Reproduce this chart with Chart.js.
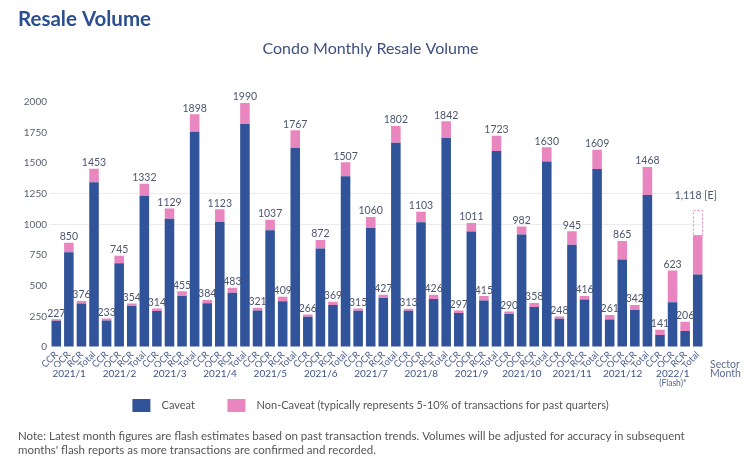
<!DOCTYPE html>
<html>
<head>
<meta charset="utf-8">
<script src="https://cdn.jsdelivr.net/npm/chart.js@4/dist/chart.umd.min.js"></script>
<style>
  html, body { margin: 0; padding: 0; background: #ffffff; }
  #wrap { position: relative; width: 750px; height: 464px; }
</style>
</head>
<body>
<div id="wrap"><canvas id="c" width="750" height="464"></canvas></div>
<script>
// ---- Data ----
const months = ['2021/1','2021/2','2021/3','2021/4','2021/5','2021/6','2021/7','2021/8','2021/9','2021/10','2021/11','2021/12','2022/1'];
const sectors = ['CCR','OCR','RCR','Total'];

// Caveat (blue) per bar: CCR, OCR, RCR, Total for each month
const caveat = [
  215, 773, 355, 1343,
  216, 684, 334, 1234,
  293, 1047, 415, 1755,
  357, 1020, 442, 1819,
  298, 953, 374, 1625,
  247, 803, 342, 1392,
  296, 971, 399, 1666,
  296, 1018, 391, 1705,
  277, 942, 380, 1599,
  270, 917, 326, 1513,
  231, 833, 388, 1452,
  225, 714, 301, 1240,
  98, 364, 130, 592
];
// Non-Caveat (pink)
const nonCaveat = [
  12, 77, 21, 110,
  17, 61, 20, 98,
  21, 82, 40, 143,
  27, 103, 41, 171,
  23, 84, 35, 142,
  19, 69, 27, 115,
  19, 89, 28, 136,
  17, 85, 35, 137,
  20, 69, 35, 124,
  20, 65, 32, 117,
  17, 112, 28, 157,
  36, 151, 41, 228,
  43, 259, 76, 320
];
// Printed value labels above the bars
const barLabels = [
  '227','850','376','1453',
  '233','745','354','1332',
  '314','1129','455','1898',
  '384','1123','483','1990',
  '321','1037','409','1767',
  '266','872','369','1507',
  '315','1060','427','1802',
  '313','1103','426','1842',
  '297','1011','415','1723',
  '290','982','358','1630',
  '248','945','416','1609',
  '261','865','342','1468',
  '141','623','206','1,118 [E]'
];
const flashEstimateTotal = 1118;   // estimated final total for 2022/1 (dotted box)
const yTicks = [0, 250, 500, 750, 1000, 1250, 1500, 1750, 2000];

// ---- Build chart structures ----
const BLUE = '#31539a';
const PINK = '#ea86bf';
const sectorLabels = [];
months.forEach(() => sectors.forEach(s => sectorLabels.push(s)));
const lastIdx = sectorLabels.length - 1;
const estimateData = sectorLabels.map((_, i) =>
  i === lastIdx ? flashEstimateTotal - caveat[i] - nonCaveat[i] : null);

const FONT = 'Lato, "Open Sans", sans-serif';
const NB = '\u00a0';

const valueLabelPlugin = {
  id: 'valueLabels',
  afterDatasetsDraw(chart) {
    const ctx = chart.ctx;
    const topMeta = chart.getDatasetMeta(1);
    const estMeta = chart.getDatasetMeta(2);
    ctx.save();
    ctx.font = '10.5px ' + FONT;
    ctx.fillStyle = '#4d5670';
    ctx.textAlign = 'center';
    ctx.textBaseline = 'middle';
    barLabels.forEach((txt, i) => {
      const el = topMeta.data[i];
      if (i === lastIdx) {
        const e = estMeta.data[i];
        ctx.save();
        ctx.strokeStyle = PINK;
        ctx.lineWidth = 1;
        ctx.setLineDash([2, 2]);
        const w = e.width;
        ctx.strokeRect(Math.round(e.x - w / 2) + 0.5, Math.round(e.y) + 0.5, Math.round(w) - 1, Math.round(e.base - e.y));
        ctx.restore();
        ctx.fillText(txt, e.x - 2, e.y - 14);
      } else {
        ctx.fillText(txt, el.x, el.y - 6);
      }
    });
    ctx.restore();
  }
};

const extraTextPlugin = {
  id: 'extraText',
  afterDraw(chart) {
    const ctx = chart.ctx;
    const xs = chart.scales.x, x2 = chart.scales.x2;
    ctx.save();
    ctx.font = '10.5px ' + FONT;
    ctx.fillStyle = '#5a6b95';
    ctx.textAlign = 'left';
    ctx.textBaseline = 'middle';
    ctx.fillText('Sector', chart.chartArea.right + 6, xs.bottom - 2);
    ctx.fillText('Month', chart.chartArea.right + 6, x2.top + 7);
    ctx.font = '8.5px ' + FONT;
    ctx.fillStyle = '#4a5e90';
    ctx.textAlign = 'center';
    ctx.fillText('(Flash)*', x2.getPixelForTick(months.length - 1) - 6, x2.top + 16);
    ctx.font = '11.5px ' + FONT;
    ctx.fillStyle = '#555555';
    ctx.textAlign = 'left';
    ctx.fillText('Note: Latest month figures are flash estimates based on past transaction trends. Volumes will be adjusted for accuracy in subsequent', 18, 436, 680);
    ctx.fillText("months' flash reports as more transactions are confirmed and recorded.", 18, 450);
    ctx.restore();
  }
};

new Chart(document.getElementById('c'), {
  type: 'bar',
  data: {
    labels: sectorLabels,
    datasets: [
      { label: 'Caveat', data: caveat, backgroundColor: BLUE, stack: 's' },
      { label: 'Non-Caveat (typically represents 5-10% of transactions for past quarters)', data: nonCaveat, backgroundColor: PINK, stack: 's' },
      { label: 'Estimate', data: estimateData, backgroundColor: 'rgba(0,0,0,0)', stack: 's' }
    ]
  },
  options: {
    responsive: false,
    animation: false,
    devicePixelRatio: 1,
    categoryPercentage: 1,
    barPercentage: 0.76,
    layout: { padding: { left: 18, right: 27, top: 0, bottom: 42 } },
    plugins: {
      title: {
        display: true, text: 'Resale Volume', align: 'start', color: '#2c4f91',
        font: { family: FONT, size: 20.5, weight: 'bold' },
        padding: { top: 7, bottom: 6 }
      },
      subtitle: {
        display: true, text: 'Condo Monthly Resale Volume', align: 'center', color: '#3f5080',
        font: { family: FONT, size: 16, weight: 'normal' },
        padding: { top: 2, bottom: 43 }
      },
      legend: {
        position: 'bottom',
        labels: {
          generateLabels: chart => Chart.defaults.plugins.legend.labels.generateLabels(chart)
            .filter(it => it.datasetIndex < 2)
            .map((it, k) => Object.assign(it, {
              text: NB + NB + it.text + (k === 0 ? NB.repeat(8) : '')
            })),
          boxWidth: 18, boxHeight: 13, padding: 10,
          color: '#555555',
          font: { family: FONT, size: 11 }
        }
      },
      tooltip: { enabled: false }
    },
    scales: {
      x: {
        stacked: true,
        offset: true,
        grid: { display: false, drawTicks: false },
        border: { display: false },
        ticks: {
          autoSkip: false, maxRotation: 45, minRotation: 45, padding: 2,
          color: '#4d5f8f', font: { family: FONT, size: 9.5 }
        },
        afterFit: s => { s.height = 20; }
      },
      x2: {
        type: 'category',
        labels: months,
        position: 'bottom',
        weight: 1,
        offset: true,
        grid: { display: false, drawTicks: false },
        border: { display: false },
        ticks: {
          autoSkip: false, maxRotation: 0, minRotation: 0, padding: 1, labelOffset: -6,
          color: '#3f5387', font: { family: FONT, size: 10 }
        },
        afterFit: s => { s.height = 22; }
      },
      y: {
        stacked: true,
        min: 0, max: 2000,
        afterBuildTicks: s => { s.ticks = yTicks.map(v => ({ value: v })); },
        grid: {
          drawTicks: false,
          color: c => (c.tick && (c.tick.value === 1000 || c.tick.value === 1250)) ? '#ececf0' : 'rgba(0,0,0,0)'
        },
        border: { display: false },
        ticks: {
          padding: 3, color: '#5b6170', font: { family: FONT, size: 10 },
          callback: v => String(v)
        },
        afterFit: s => { s.width = 32; }
      },
      yRightSpace: {
        type: 'linear',
        position: 'right',
        display: true,
        grid: { display: false, drawTicks: false },
        border: { display: false },
        ticks: { display: false },
        afterFit: s => { s.width = 19; }
      }
    }
  },
  plugins: [valueLabelPlugin, extraTextPlugin]
});
</script>
</body>
</html>
